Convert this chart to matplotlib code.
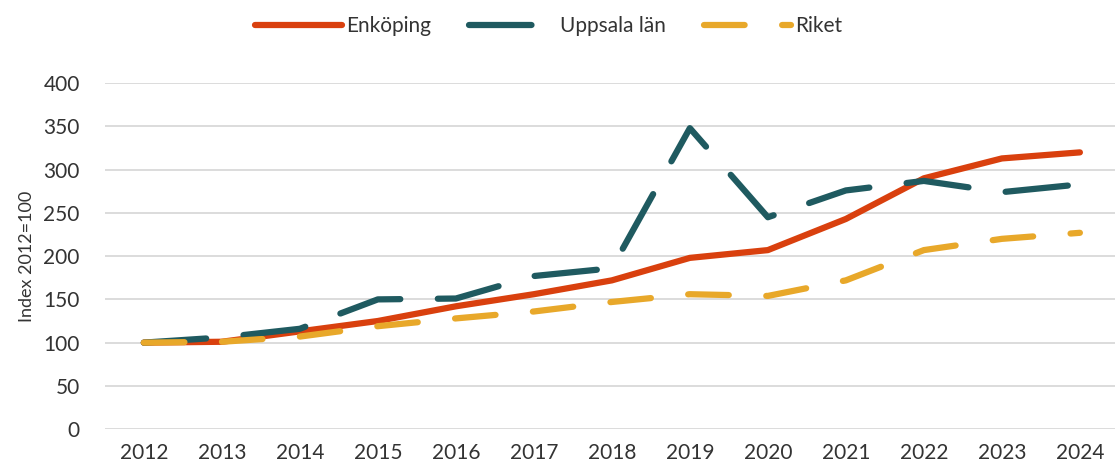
import matplotlib.pyplot as plt
import numpy as np

plt.rcParams['font.family'] = ['Lato', 'DejaVu Sans']

years = ["2012", "2013", "2014", "2015", "2016", "2017", "2018",
         "2019", "2020", "2021", "2022", "2023", "2024"]
enkoping = [100, 101, 113, 125, 142, 156, 172, 198, 207, 243, 290, 313, 320]
uppsala = [100, 106, 116, 150, 151, 177, 186, 348, 245, 276, 287, 274, 283]
riket = [100, 101, 107, 119, 128, 136, 147, 156, 154, 172, 207, 220, 227]

fig = plt.figure(figsize=(11.15, 4.7), dpi=100)
ax = fig.add_axes([0.094, 0.087, 0.906, 0.736])

x = np.arange(len(years))
ax.plot(x, enkoping, color="#D9400E", lw=4.5, solid_capstyle="round",
        label="Enköping", zorder=3)
ax.plot(x, uppsala, color="#1F5A60", lw=4.5, dashes=(10, 6),
        dash_capstyle="round", label="Uppsala län", zorder=4)
ax.plot(x, riket, color="#E8A82A", lw=4.5, dashes=(6.5, 6),
        dash_capstyle="round", label="Riket", zorder=5)

ax.set_ylim(0, 400)
ax.set_yticks(range(0, 401, 50))
ax.set_xlim(-0.5, 12.45)
ax.set_xticks(x)
ax.set_xticklabels(years)
ax.yaxis.grid(True, color="#D9D9D9", lw=1.3)
ax.set_axisbelow(True)
for s in ax.spines.values():
    s.set_visible(False)
ax.tick_params(length=0, labelsize=15, colors="#333333")
ax.tick_params(axis='y', pad=18)
ax.tick_params(axis='x', pad=10)
ax.set_ylabel("Index 2012=100", fontsize=13, color="#333333", labelpad=6)

leg = fig.legend(loc="upper center", bbox_to_anchor=(0.492, 1.005), ncol=3,
                 frameon=False, fontsize=15, handlelength=4.2,
                 columnspacing=1.8, handletextpad=0.2)
for t in leg.get_texts():
    t.set_color("#333333")

fig.savefig("out.png", dpi=100)
